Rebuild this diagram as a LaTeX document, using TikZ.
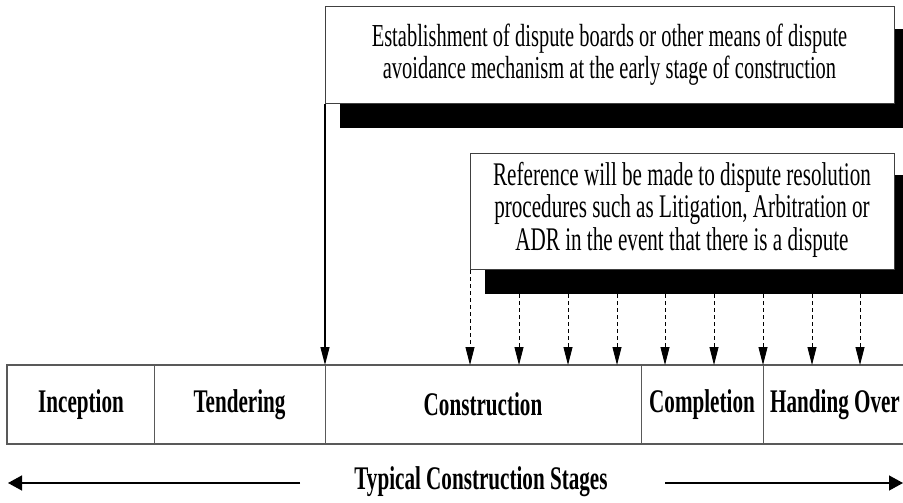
\documentclass[tikz,border=0pt]{standalone}
\usepackage{fontspec}
\setmainfont{Liberation Serif}[FakeStretch=0.64]
\usetikzlibrary{arrows.meta}
\begin{document}
\begin{tikzpicture}[x=1pt,y=-1pt,
  boxtext/.style={font=\fontsize{33}{32.5}\selectfont, align=center, inner sep=0pt},
  toptextstyle/.style={font=\fontsize{32}{32}\selectfont, align=center, inner sep=0pt},
  panel/.style={draw=black!75, line width=1pt, fill=white, inner sep=0pt, anchor=north west},
  shade/.style={fill=black, draw=none, inner sep=0pt, anchor=north west},
  stagelab/.style={font=\fontsize{33}{36}\selectfont\bfseries, inner sep=0pt},
  solidarr/.style={line width=1.3pt, -{Triangle[width=9pt,length=18pt]}},
  dasharr/.style={line width=0.9pt, dash pattern=on 4pt off 3pt, -{Triangle[width=9pt,length=18pt]}},
  bigarr/.style={line width=1.3pt, -{Triangle[width=15pt,length=14pt]}},
  frameline/.style={draw=black!65, line width=1.5pt},
  divline/.style={draw=black!65, line width=1pt}]
\useasboundingbox (0,0) rectangle (903,503);
\clip (0,0) rectangle (903,503);

% top box
\node[shade, minimum width=563pt, minimum height=99pt] (topsh) at (340,29) {};
\node[panel, minimum width=569pt, minimum height=97pt] (top) at (325,6) {};
\node[toptextstyle] (toptext) at (609.5,54.5) {Establishment of dispute boards or other means of dispute\\avoidance mechanism at the early stage of construction};

% reference box
\node[shade, minimum width=418pt, minimum height=119pt] (refsh) at (485,175) {};
\node[panel, minimum width=424pt, minimum height=116pt] (ref) at (470,153) {};
\node[boxtext] (reftext) at (682,209.7) {Reference will be made to dispute resolution\\procedures such as Litigation, Arbitration or\\ADR in the event that there is a dispute};

% timeline frame
\coordinate (tl) at (7,365);
\coordinate (tr) at (903,365);
\coordinate (bl) at (7,444);
\coordinate (br) at (903,444);
\draw[frameline] (tr) -- (tl) -- (bl) -- (br);
\foreach \x in {154,325,641,763} \draw[divline] (\x,365) -- (\x,444);

\node[stagelab] (inc) at (81,404.5) {Inception};
\node[stagelab] (ten) at (239.5,404.5) {Tendering};
\node[stagelab] (con) at (483,404.5) {Construction};
\node[stagelab] (com) at (702,404.5) {Completion};
\node[stagelab] (han) at (835,404.5) {Handing Over};

% solid arrow
\coordinate (c0) at (325,365);
\draw[solidarr] (top.south west) -- (c0);

% dashed arrows
\coordinate (d0) at (470,365);
\draw[dasharr] (ref.south west) -- (d0);
\foreach \x [count=\i] in {519,568,617,665,714,763,812,860} {
  \coordinate (d\i) at (\x,365);
  \draw[dasharr] (refsh.south -| d\i) -- (d\i);
}

% bottom label
\node[stagelab] (tcs) at (481,482) {Typical Construction Stages};
\coordinate (la0) at (300,483);
\coordinate (la) at (8,483);
\coordinate (ra0) at (665,483);
\coordinate (ra) at (903,483);
\draw[bigarr] (la0) -- (la);
\draw[bigarr] (ra0) -- (ra);
\end{tikzpicture}
\end{document}
